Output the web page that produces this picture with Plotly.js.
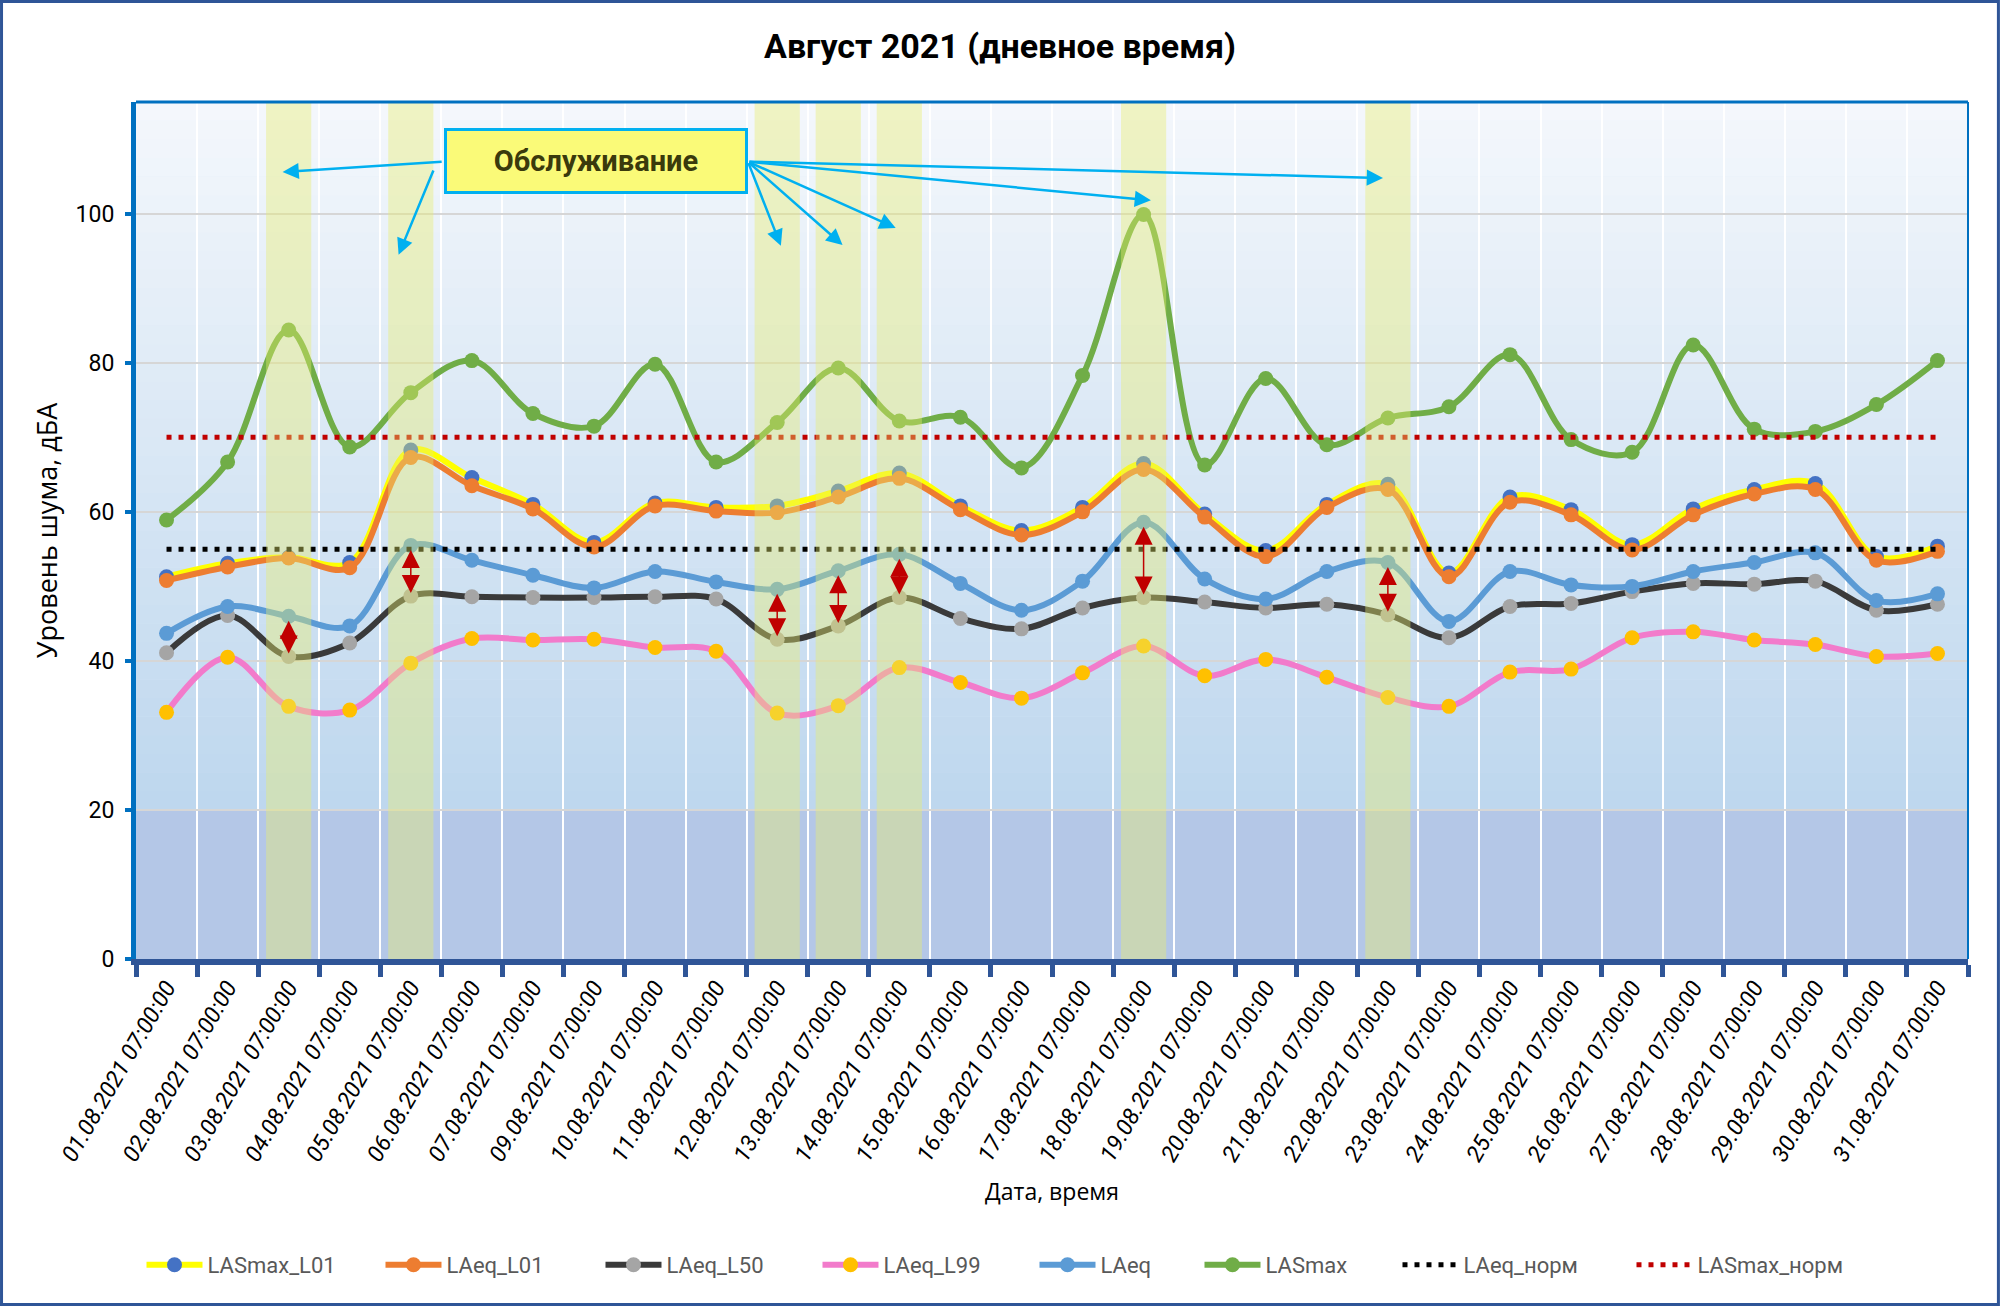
<!DOCTYPE html>
<html>
<head>
<meta charset="utf-8">
<script src="https://cdn.plot.ly/plotly-3.0.1.min.js"></script>
<style>
body { margin: 0; background: #ffffff; }
#chart { width: 2000px; height: 1306px; }
</style>
</head>
<body>
<div id="chart"></div>
<script>
// tick labels (08.08 is missing in the source data)
var dates = [
    '01.08.2021 07:00:00', '02.08.2021 07:00:00', '03.08.2021 07:00:00', '04.08.2021 07:00:00',
    '05.08.2021 07:00:00', '06.08.2021 07:00:00', '07.08.2021 07:00:00', '09.08.2021 07:00:00',
    '10.08.2021 07:00:00', '11.08.2021 07:00:00', '12.08.2021 07:00:00', '13.08.2021 07:00:00',
    '14.08.2021 07:00:00', '15.08.2021 07:00:00', '16.08.2021 07:00:00', '17.08.2021 07:00:00',
    '18.08.2021 07:00:00', '19.08.2021 07:00:00', '20.08.2021 07:00:00', '21.08.2021 07:00:00',
    '22.08.2021 07:00:00', '23.08.2021 07:00:00', '24.08.2021 07:00:00', '25.08.2021 07:00:00',
    '26.08.2021 07:00:00', '27.08.2021 07:00:00', '28.08.2021 07:00:00', '29.08.2021 07:00:00',
    '30.08.2021 07:00:00', '31.08.2021 07:00:00'
];

var lasmax_l01 = [51.3, 53.1, 53.9, 53.2, 68.3, 64.6, 61.0, 55.9, 61.2, 60.6, 60.8, 62.8, 65.2, 60.8, 57.5,
                  60.6, 66.5, 59.7, 54.8, 61.0, 63.7, 51.8, 62.0, 60.3, 55.6, 60.4, 63.0, 63.8, 54.0, 55.4];
var laeq_l01 = [50.8, 52.6, 53.8, 52.5, 67.3, 63.5, 60.4, 55.3, 60.8, 60.1, 59.9, 62.0, 64.5, 60.3, 56.9,
                60.0, 65.7, 59.3, 54.0, 60.6, 63.0, 51.3, 61.3, 59.6, 54.9, 59.6, 62.4, 63.0, 53.5, 54.7];
var laeq_l50 = [41.1, 46.1, 40.6, 42.4, 48.7, 48.6, 48.5, 48.5, 48.6, 48.3, 42.9, 44.7, 48.5, 45.7, 44.3,
                47.1, 48.5, 47.9, 47.1, 47.6, 46.2, 43.1, 47.3, 47.7, 49.3, 50.4, 50.3, 50.7, 46.8, 47.6];
var laeq_l99 = [33.1, 40.5, 33.9, 33.4, 39.7, 43.0, 42.8, 42.9, 41.8, 41.3, 33.0, 34.0, 39.1, 37.1, 35.0,
                38.4, 42.0, 38.0, 40.2, 37.8, 35.1, 33.9, 38.5, 38.9, 43.1, 43.9, 42.8, 42.2, 40.6, 41.0];
var laeq = [43.7, 47.3, 46.0, 44.7, 55.5, 53.5, 51.5, 49.8, 52.0, 50.6, 49.6, 52.1, 54.3, 50.4, 46.8,
            50.7, 58.6, 51.0, 48.3, 52.0, 53.2, 45.3, 52.0, 50.2, 50.0, 52.0, 53.2, 54.5, 48.1, 49.0];
var lasmax = [58.9, 66.7, 84.4, 68.7, 76.0, 80.3, 73.2, 71.5, 79.8, 66.7, 72.0, 79.3, 72.2, 72.7, 65.9,
              78.3, 99.9, 66.3, 77.9, 69.0, 72.6, 74.1, 81.1, 69.7, 68.0, 82.4, 71.1, 70.8, 74.4, 80.3];

var laeq_norm = 55;
var lasmax_norm = 70;

// days with maintenance (index into dates)
var service_days = [2, 4, 10, 11, 12, 16, 20];

function line_trace(name, y, line_color, marker_color, legend_w) {
    return {
        x: dates,
        y: y,
        name: name,
        type: 'scatter',
        mode: 'lines+markers',
        legendwidth: legend_w,
        line: { color: line_color, width: 6, shape: 'spline', smoothing: 1 },
        marker: { color: marker_color, size: 15 }
    };
}

function norm_trace(name, value, color, legend_w) {
    return {
        x: [dates[0], dates[dates.length - 1]],
        y: [value, value],
        name: name,
        type: 'scatter',
        mode: 'lines',
        legendwidth: legend_w,
        line: { color: color, width: 5, dash: '5px,7px' }
    };
}

function background_shapes() {
    let shapes = [];
    // flat band under 20
    shapes.push({
        type: 'rect', layer: 'below', xref: 'paper', yref: 'y',
        x0: 0, x1: 1, y0: 0, y1: 20,
        fillcolor: '#b4c7e7', line: { width: 0 }
    });
    // soft gradient above it
    let bottom = [190, 215, 238];
    let top = [245, 248, 252];
    let step = 2.5;
    for (let v = 20; v < 115; v += step) {
        let t = (v - 20) / 95;
        let c = bottom.map(function (b, k) { return Math.round(b + (top[k] - b) * t); });
        shapes.push({
            type: 'rect', layer: 'below', xref: 'paper', yref: 'y',
            x0: 0, x1: 1, y0: v, y1: v + step + 0.05,
            fillcolor: 'rgb(' + c.join(',') + ')', line: { width: 0 }
        });
    }
    return shapes;
}

function service_shapes() {
    return service_days.map(function (i) {
        return {
            type: 'rect', layer: 'above', xref: 'x', yref: 'paper',
            x0: i - 0.37, x1: i + 0.37, y0: 0, y1: 1,
            fillcolor: 'rgba(232, 238, 110, 0.4)', line: { width: 0 }
        };
    });
}

function border_shapes() {
    return [
        { type: 'line', xref: 'paper', yref: 'paper', x0: 0, x1: 1, y0: 1, y1: 1,
          line: { color: '#0070c0', width: 3 } },
        { type: 'line', xref: 'paper', yref: 'paper', x0: 1, x1: 1, y0: 0, y1: 1,
          line: { color: '#0070c0', width: 2 } },
        // frame around the whole picture
        { type: 'rect', xref: 'paper', yref: 'paper',
          x0: -0.0734, x1: 1.0166, y0: -0.4032, y1: 1.1173,
          line: { color: '#2f5597', width: 3 } }
    ];
}

function red_arrows() {
    return service_days.map(function (i) {
        return {
            x: i, y: laeq_l50[i], ax: i, ay: laeq[i],
            xref: 'x', yref: 'y', axref: 'x', ayref: 'y',
            text: '', showarrow: true,
            arrowhead: 2, arrowside: 'end+start', arrowsize: 2.4, arrowwidth: 1.5,
            arrowcolor: '#c00000', standoff: 3, startstandoff: 3
        };
    });
}

function callout() {
    let notes = [];
    notes.push({
        x: 7.03, y: 107.1, xref: 'x', yref: 'y',
        text: '<b>Обслуживание</b>', showarrow: false,
        font: { family: 'Roboto', size: 29, color: '#3a3a0c' },
        bgcolor: '#fafa78', bordercolor: '#00b0f0', borderwidth: 3,
        width: 296, height: 58
    });
    // arrow tail on box edge -> head near band
    let right_tail = [9.52, 107.0];
    let arrows = [
        [4.53, 107.0, 1.90, 105.6],
        [4.38, 106.0, 3.80, 94.5],
        [right_tail[0], right_tail[1], 10.06, 95.7],
        [right_tail[0], right_tail[1], 11.07, 95.8],
        [right_tail[0], right_tail[1], 11.94, 98.1],
        [right_tail[0], right_tail[1], 16.12, 101.8],
        [right_tail[0], right_tail[1], 19.92, 104.8]
    ];
    arrows.forEach(function (a) {
        notes.push({
            x: a[2], y: a[3], ax: a[0], ay: a[1],
            xref: 'x', yref: 'y', axref: 'x', ayref: 'y',
            text: '', showarrow: true,
            arrowhead: 2, arrowsize: 1.3, arrowwidth: 2.5, arrowcolor: '#00b0f0'
        });
    });
    return notes;
}

function main() {
    // legend entry widths follow the uneven spacing of the original legend
    let data = [
        line_trace('LASmax_L01', lasmax_l01, '#ffff00', '#4472c4', 168),
        line_trace('LAeq_L01', laeq_l01, '#ed7d31', '#ed7d31', 149),
        line_trace('LAeq_L50', laeq_l50, '#3a3a3a', '#a5a5a5', 146),
        line_trace('LAeq_L99', laeq_l99, '#f27bcb', '#ffc000', 146),
        line_trace('LAeq', laeq, '#5b9bd5', '#5b9bd5', 94),
        line_trace('LASmax', lasmax, '#70ad47', '#70ad47', 127),
        norm_trace('LAeq_норм', laeq_norm, '#000000', 163),
        norm_trace('LASmax_норм', lasmax_norm, '#c00000', 150)
    ];

    let layout = {
        width: 2000,
        height: 1306,
        margin: { l: 136, r: 32, t: 102, b: 347 },
        paper_bgcolor: '#ffffff',
        plot_bgcolor: '#dce8f5',
        title: {
            text: 'Август 2021 (дневное время)',
            font: { family: 'Roboto', size: 34, color: '#000000', weight: 'bold' },
            x: 0.5, xanchor: 'center', y: 0.965, yanchor: 'middle'
        },
        xaxis: {
            type: 'category',
            categoryorder: 'array',
            categoryarray: dates,
            range: [-0.5, dates.length - 0.5],
            tickson: 'boundaries',
            tickangle: -60,
            tickfont: { family: 'Roboto', size: 23, color: '#000000', style: 'italic' },
            showgrid: true, gridcolor: '#ffffff', gridwidth: 2,
            showline: true, linecolor: '#2f5597', linewidth: 6,
            ticks: 'outside', ticklen: 12, tickwidth: 5, tickcolor: '#2f5597',
            automargin: false,
            title: {
                text: 'Дата, время',
                font: { family: 'Open Sans', size: 23, color: '#000000' },
                standoff: 20
            }
        },
        yaxis: {
            range: [0, 115],
            tick0: 0, dtick: 20,
            tickfont: { family: 'Roboto', size: 23, color: '#000000' },
            ticklabelstandoff: 6,
            showgrid: true, gridcolor: '#d6d6d6', gridwidth: 2,
            zeroline: false,
            showline: true, linecolor: '#0070c0', linewidth: 5,
            ticks: 'outside', ticklen: 6, tickwidth: 4, tickcolor: '#0070c0',
            automargin: false,
            title: {
                text: 'Уровень шума, дБА',
                font: { family: 'Open Sans', size: 27, color: '#000000' },
                standoff: 12
            }
        },
        legend: {
            orientation: 'h',
            x: 0.003, xanchor: 'left',
            y: -0.357, yanchor: 'middle',
            font: { family: 'Roboto', size: 22, color: '#595959' },
            itemwidth: 56,
            entrywidth: 142,
            bgcolor: 'rgba(0,0,0,0)'
        },
        shapes: background_shapes().concat(service_shapes(), border_shapes()),
        annotations: red_arrows().concat(callout())
    };

    Plotly.newPlot('chart', data, layout, { staticPlot: true });
}

main();
</script>
</body>
</html>
